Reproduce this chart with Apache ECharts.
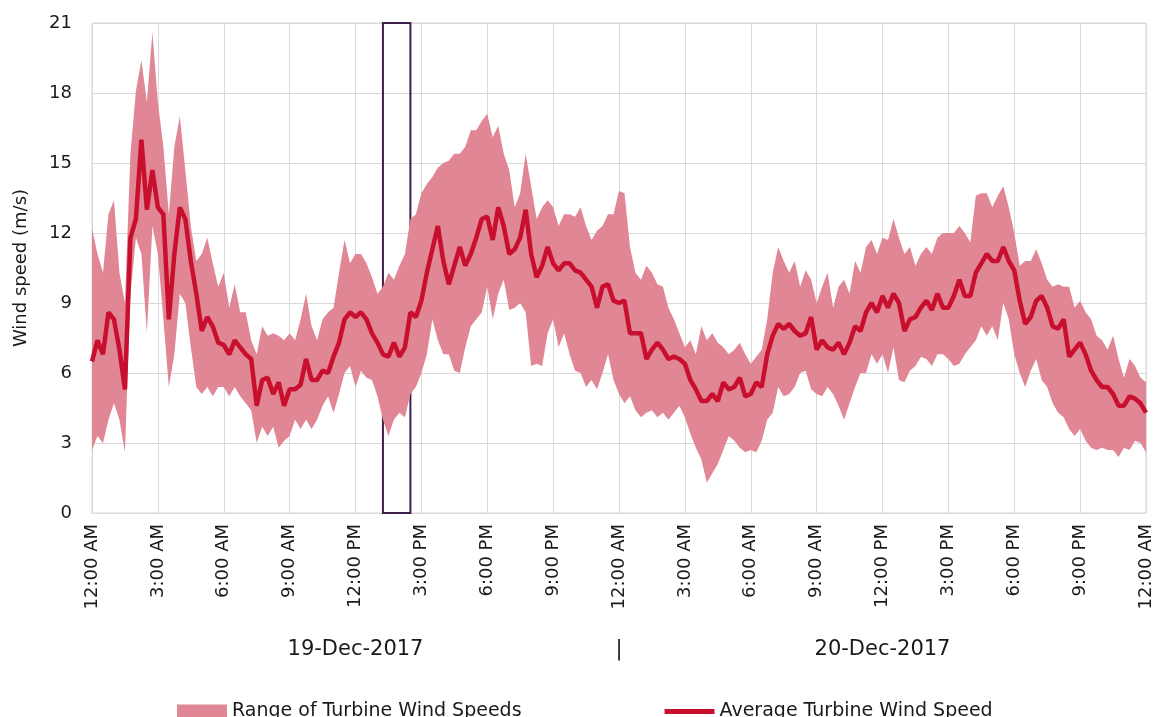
<!DOCTYPE html>
<html>
<head>
<meta charset="utf-8">
<title>Turbine wind speeds</title>
<script src="https://cdn.jsdelivr.net/npm/echarts@6/dist/echarts.min.js"></script>
<style>
  html, body { margin: 0; padding: 0; background: #fff; }
  #chart { width: 1156px; height: 717px; }
</style>
</head>
<body>
<div id="chart"></div>
<script>
// 15-minute samples, 12:00 AM 19-Dec-2017 to 12:00 AM 21-Dec-2017 (hours 0..48)
const avgSpeed = [
  6.5, 7.4, 6.8, 8.6,   8.3, 7.0, 5.3, 11.8,  12.6, 16.0, 13.0, 14.7,
  13.1, 12.8, 8.3, 11.1, 13.1, 12.6, 10.8, 9.4, 7.8, 8.4, 8.0, 7.3,
  7.2, 6.8, 7.4, 7.1,   6.8, 6.6, 4.6, 5.7,   5.8, 5.1, 5.6, 4.6,
  5.3, 5.3, 5.5, 6.6,   5.7, 5.7, 6.1, 6.0,   6.7, 7.3, 8.3, 8.6,
  8.4, 8.6, 8.3, 7.7,   7.3, 6.8, 6.7, 7.3,   6.7, 7.1, 8.6, 8.4,
  9.1, 10.3, 11.3, 12.3, 10.8, 9.8, 10.6, 11.4, 10.6, 11.1, 11.8, 12.6,
  12.7, 11.7, 13.1, 12.3, 11.1, 11.3, 11.8, 13.0, 11.1, 10.1, 10.6, 11.4,
  10.7, 10.4, 10.7, 10.7, 10.4, 10.3, 10.0, 9.7, 8.8, 9.7, 9.8, 9.1,
  9.0, 9.1, 7.7, 7.7,   7.7, 6.6, 7.0, 7.3,   7.0, 6.6, 6.7, 6.6,
  6.4, 5.7, 5.3, 4.8,   4.8, 5.1, 4.8, 5.6,   5.3, 5.4, 5.8, 5.0,
  5.1, 5.6, 5.4, 6.8,   7.6, 8.1, 7.9, 8.1,   7.8, 7.6, 7.7, 8.4,
  7.0, 7.4, 7.1, 7.0,   7.3, 6.8, 7.3, 8.0,   7.8, 8.6, 9.0, 8.6,
  9.3, 8.8, 9.4, 9.0,   7.8, 8.3, 8.4, 8.8,   9.1, 8.7, 9.4, 8.8,
  8.8, 9.3, 10.0, 9.3,  9.3, 10.3, 10.7, 11.1, 10.8, 10.8, 11.4, 10.8,
  10.4, 9.1, 8.1, 8.4,  9.1, 9.3, 8.8, 8.0,   7.9, 8.3, 6.7, 7.0,
  7.3, 6.8, 6.1, 5.7,   5.4, 5.4, 5.1, 4.6,   4.6, 5.0, 4.9, 4.7,
  4.3
];
const minSpeed = [
  2.7, 3.3, 3.0, 4.0,   4.7, 4.0, 2.6, 9.4,   11.8, 11.1, 7.7, 12.3,
  11.1, 8.3, 5.4, 6.8,  9.4, 9.0, 7.1, 5.4,   5.1, 5.4, 5.0, 5.4,
  5.4, 5.0, 5.4, 5.0,   4.7, 4.4, 3.0, 3.7,   3.3, 3.7, 2.8, 3.1,
  3.3, 4.0, 3.6, 4.0,   3.6, 4.0, 4.6, 5.0,   4.3, 5.1, 6.0, 6.3,
  5.4, 6.1, 5.8, 5.7,   5.0, 4.0, 3.3, 4.0,   4.3, 4.1, 5.1, 5.4,
  6.0, 6.8, 8.3, 7.4,   6.8, 6.8, 6.1, 6.0,   7.1, 8.0, 8.3, 8.6,
  9.7, 8.3, 9.4, 10.0,  8.7, 8.8, 9.0, 8.6,   6.3, 6.4, 6.3, 7.7,
  8.3, 7.1, 7.7, 6.8,   6.1, 6.0, 5.4, 5.7,   5.3, 6.0, 6.8, 5.7,
  5.1, 4.7, 5.0, 4.4,   4.1, 4.3, 4.4, 4.1,   4.3, 4.0, 4.3, 4.6,
  4.1, 3.4, 2.8, 2.3,   1.3, 1.7, 2.1, 2.7,   3.3, 3.1, 2.8, 2.6,
  2.7, 2.6, 3.1, 4.0,   4.3, 5.4, 5.0, 5.1,   5.4, 6.0, 6.1, 5.3,
  5.1, 5.0, 5.4, 5.1,   4.6, 4.0, 4.7, 5.4,   6.0, 6.0, 6.8, 6.4,
  6.8, 6.0, 7.1, 5.7,   5.6, 6.1, 6.3, 6.7,   6.6, 6.3, 6.8, 6.8,
  6.6, 6.3, 6.4, 6.8,   7.1, 7.4, 8.0, 7.6,   8.0, 7.4, 9.0, 8.3,
  6.8, 6.0, 5.4, 6.1,   6.6, 5.7, 5.4, 4.7,   4.3, 4.1, 3.6, 3.3,
  3.6, 3.1, 2.8, 2.7,   2.8, 2.7, 2.7, 2.4,   2.8, 2.7, 3.1, 3.0,
  2.6
];
const maxSpeed = [
  12.2, 11.1, 10.3, 12.8, 13.4, 10.3, 9.0, 15.4, 18.1, 19.4, 17.6, 20.6,
  17.6, 15.7, 12.8, 15.7, 17.0, 14.7, 12.3, 10.8, 11.1, 11.8, 10.7, 9.7,
  10.3, 8.8, 9.8, 8.6,  8.6, 7.4, 6.8, 8.0,   7.6, 7.7, 7.6, 7.4,
  7.7, 7.4, 8.3, 9.4,   8.0, 7.4, 8.3, 8.6,   8.8, 10.3, 11.7, 10.7,
  11.1, 11.1, 10.7, 10.1, 9.4, 9.7, 10.3, 10.0, 10.6, 11.1, 12.6, 12.8,
  13.7, 14.1, 14.4, 14.8, 15.0, 15.1, 15.4, 15.4, 15.7, 16.4, 16.4, 16.8,
  17.1, 16.1, 16.6, 15.4, 14.7, 13.1, 13.7, 15.4, 14.0, 12.6, 13.1, 13.4,
  13.1, 12.3, 12.8, 12.8, 12.7, 13.1, 12.3, 11.7, 12.1, 12.3, 12.8, 12.8,
  13.8, 13.7, 11.4, 10.3, 10.0, 10.6, 10.3, 9.8, 9.7, 8.8, 8.3, 7.7,
  7.1, 7.4, 6.8, 8.0,   7.4, 7.7, 7.3, 7.1,   6.8, 7.0, 7.3, 6.8,
  6.4, 6.7, 7.0, 8.3,   10.3, 11.4, 10.8, 10.3, 10.8, 9.7, 10.4, 10.0,
  9.0, 9.7, 10.3, 8.8,  9.7, 10.0, 9.4, 10.8, 10.3, 11.4, 11.7, 11.1,
  11.8, 11.7, 12.6, 11.8, 11.1, 11.4, 10.6, 11.1, 11.4, 11.1, 11.8, 12.0,
  12.0, 12.0, 12.3, 12.0, 11.6, 13.6, 13.7, 13.7, 13.1, 13.6, 14.0, 13.1,
  12.0, 10.6, 10.8, 10.8, 11.3, 10.7, 10.0, 9.7, 9.8, 9.7, 9.7, 8.8,
  9.1, 8.6, 8.3, 7.6,   7.4, 7.0, 7.6, 6.6,   5.8, 6.6, 6.3, 5.8,
  5.6
];
const tickLabels = [
  '12:00 AM', '3:00 AM', '6:00 AM', '9:00 AM', '12:00 PM', '3:00 PM', '6:00 PM', '9:00 PM',
  '12:00 AM', '3:00 AM', '6:00 AM', '9:00 AM', '12:00 PM', '3:00 PM', '6:00 PM', '9:00 PM',
  '12:00 AM'
];
const dayLabels = { 48: '19-Dec-2017', 96: '|', 144: '20-Dec-2017' }; // keyed by sample index
const highlightWindow = [53, 58]; // sample indexes (13:15 to 14:30 on 19-Dec)

// one category per 15-minute sample
const samples = avgSpeed.map((_, i) => String(i));
const rangeSpan = maxSpeed.map((v, i) => +(v - minSpeed[i]).toFixed(2));

const FONT = 'DejaVu Sans';
const TEXT = '#1a1a1a';
const GRID = '#d9d9d9';

const chart = echarts.init(document.getElementById('chart'));
chart.setOption({
  animation: false,
  grid: { left: 92, right: 10, top: 23, bottom: 204, show: true, borderColor: GRID, borderWidth: 1 },
  xAxis: [
    {
      type: 'category', data: samples, boundaryGap: false,
      axisLine: { show: true, lineStyle: { color: GRID } },
      axisTick: { show: false },
      splitLine: { show: true, interval: 11, lineStyle: { color: GRID } },
      axisLabel: {
        interval: 11, rotate: 90, margin: 11, fontFamily: FONT, fontSize: 18, color: TEXT,
        formatter: (v, i) => tickLabels[i / 12] || ''
      }
    },
    {
      type: 'category', data: samples, boundaryGap: false, position: 'bottom', offset: 118,
      axisLine: { show: false }, axisTick: { show: false }, splitLine: { show: false },
      axisLabel: {
        interval: 47, fontFamily: FONT, fontSize: 21, color: TEXT,
        formatter: (v, i) => dayLabels[i] || ''
      }
    }
  ],
  yAxis: {
    type: 'value', min: 0, max: 21, interval: 3,
    name: 'Wind speed (m/s)', nameLocation: 'middle', nameGap: 62,
    nameTextStyle: { fontFamily: FONT, fontSize: 18, color: TEXT },
    axisLine: { show: true, lineStyle: { color: GRID } },
    axisTick: { show: false },
    splitLine: { lineStyle: { color: GRID } },
    axisLabel: { fontFamily: FONT, fontSize: 18, color: TEXT, margin: 20 }
  },
  legend: {
    top: 697, left: 172, itemGap: 143, itemWidth: 50, itemHeight: 14,
    textStyle: { fontFamily: FONT, fontSize: 19, color: TEXT },
    data: [
      { name: 'Range of Turbine Wind Speeds', icon: 'rect' },
      { name: 'Average Turbine Wind Speed', icon: 'path://M0,0H50V5H0Z' }
    ]
  },
  series: [
    {
      name: 'low', type: 'line', stack: 'range', data: minSpeed,
      symbol: 'none', lineStyle: { opacity: 0 }, silent: true
    },
    {
      name: 'Range of Turbine Wind Speeds', type: 'line', stack: 'range', data: rangeSpan,
      symbol: 'none', lineStyle: { opacity: 0 },
      itemStyle: { color: '#e08694' },
      areaStyle: { color: '#e08694', opacity: 1 },
      markArea: {
        silent: true,
        itemStyle: { color: 'rgba(0,0,0,0)', borderColor: '#3d1e4d', borderWidth: 2 },
        data: [[{ xAxis: highlightWindow[0], yAxis: 0 }, { xAxis: highlightWindow[1], yAxis: 21 }]]
      }
    },
    {
      name: 'Average Turbine Wind Speed', type: 'line', data: avgSpeed,
      symbol: 'none', symbolKeepAspect: true, z: 5,
      itemStyle: { color: '#c8102e' },
      lineStyle: { color: '#c8102e', width: 4.5 }
    }
  ]
});
</script>
</body>
</html>
